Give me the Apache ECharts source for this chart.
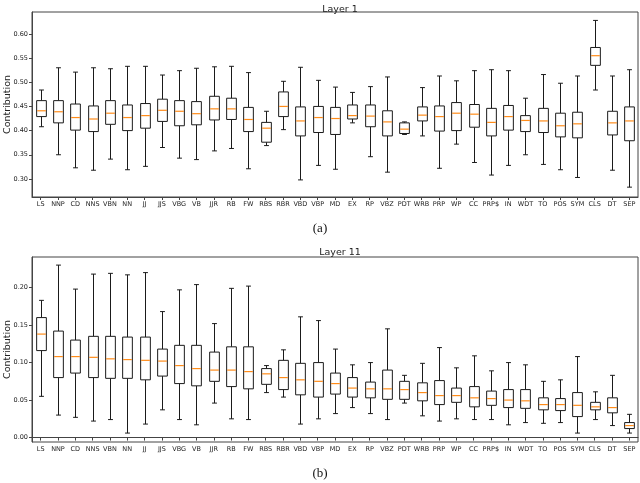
<!DOCTYPE html>
<html>
<head>
<meta charset="utf-8">
<script src="https://cdn.jsdelivr.net/npm/echarts@6/dist/echarts.min.js"></script>
<style>html,body{margin:0;padding:0;background:#fff;}#c{width:640px;height:483px;}</style>
</head>
<body>
<div id="c"></div>
<script>
const categories = ['LS','NNP','CD','NNS','VBN','NN','JJ','JJS','VBG','VB','JJR','RB','FW','RBS','RBR','VBD','VBP','MD','EX','RP','VBZ','PDT','WRB','PRP','WP','CC','PRP$','IN','WDT','TO','POS','SYM','CLS','DT','SEP'];

// Layer 1
const l1Low  = [0.408,0.350,0.323,0.318,0.341,0.319,0.326,0.365,0.343,0.340,0.358,0.363,0.321,0.369,0.402,0.298,0.328,0.320,0.416,0.346,0.314,0.392,0.389,0.322,0.372,0.334,0.308,0.328,0.350,0.330,0.319,0.303,0.484,0.318,0.283];
const l1Q1   = [0.429,0.416,0.401,0.398,0.413,0.400,0.405,0.419,0.410,0.412,0.422,0.423,0.398,0.376,0.429,0.389,0.396,0.392,0.424,0.408,0.389,0.394,0.420,0.399,0.400,0.407,0.389,0.401,0.398,0.396,0.387,0.385,0.535,0.391,0.379];
const l1Med  = [0.441,0.439,0.427,0.424,0.436,0.427,0.431,0.442,0.440,0.435,0.445,0.445,0.423,0.405,0.450,0.420,0.427,0.425,0.431,0.430,0.418,0.403,0.432,0.429,0.436,0.434,0.417,0.429,0.421,0.420,0.410,0.414,0.555,0.416,0.420];
const l1Q3   = [0.462,0.462,0.455,0.451,0.462,0.453,0.456,0.465,0.462,0.460,0.471,0.467,0.448,0.417,0.480,0.449,0.450,0.448,0.453,0.453,0.441,0.416,0.449,0.451,0.458,0.454,0.446,0.452,0.431,0.446,0.436,0.438,0.572,0.440,0.449];
const l1High = [0.484,0.530,0.521,0.530,0.528,0.533,0.533,0.515,0.524,0.529,0.532,0.533,0.520,0.440,0.502,0.531,0.504,0.490,0.479,0.491,0.511,0.418,0.489,0.513,0.503,0.524,0.526,0.524,0.467,0.516,0.498,0.513,0.628,0.513,0.526];

// Layer 11
const l11Low  = [0.055,0.030,0.027,0.022,0.024,0.006,0.018,0.037,0.024,0.017,0.046,0.025,0.024,0.060,0.054,0.018,0.025,0.032,0.040,0.032,0.024,0.046,0.029,0.022,0.025,0.024,0.024,0.017,0.020,0.019,0.020,0.006,0.024,0.016,0.006];
const l11Q1   = [0.116,0.080,0.086,0.080,0.079,0.079,0.077,0.082,0.072,0.069,0.075,0.068,0.065,0.071,0.064,0.057,0.054,0.058,0.054,0.053,0.051,0.051,0.049,0.044,0.047,0.041,0.043,0.040,0.039,0.037,0.036,0.028,0.037,0.033,0.012];
const l11Med  = [0.138,0.108,0.108,0.107,0.105,0.104,0.103,0.102,0.096,0.092,0.090,0.090,0.088,0.085,0.080,0.077,0.075,0.072,0.066,0.065,0.065,0.064,0.060,0.056,0.056,0.053,0.052,0.050,0.049,0.044,0.044,0.043,0.041,0.040,0.016];
const l11Q3   = [0.160,0.142,0.130,0.135,0.135,0.134,0.134,0.118,0.123,0.123,0.114,0.121,0.121,0.092,0.103,0.099,0.100,0.086,0.080,0.074,0.090,0.075,0.073,0.076,0.066,0.068,0.062,0.064,0.064,0.053,0.052,0.060,0.047,0.053,0.020];
const l11High = [0.183,0.230,0.198,0.218,0.219,0.217,0.220,0.168,0.197,0.204,0.152,0.199,0.202,0.096,0.117,0.161,0.156,0.118,0.097,0.100,0.145,0.083,0.099,0.120,0.093,0.109,0.089,0.100,0.097,0.075,0.077,0.108,0.061,0.083,0.031];

const l1Ticks  = [0.30,0.35,0.40,0.45,0.50,0.55,0.60];
const l11Ticks = [0.00,0.05,0.10,0.15,0.20];

function rows(lo, q1, md, q3, hi) {
  return categories.map((c, i) => [i, lo[i], q1[i], md[i], q3[i], hi[i]]);
}

function renderBox(params, api) {
  const i = api.value(0);
  const pLow = api.coord([i, api.value(1)]);
  const pQ1 = api.coord([i, api.value(2)]);
  const pMed = api.coord([i, api.value(3)]);
  const pQ3 = api.coord([i, api.value(4)]);
  const pHigh = api.coord([i, api.value(5)]);
  const band = api.size([1, 0])[0];
  const bw = band * 0.56, cw = bw * 0.5;
  const cx = Math.round(pMed[0]) + 0.5;
  const st = { stroke: '#1a1a1a', lineWidth: 1, fill: null };
  return {
    type: 'group',
    children: [
      { type: 'line', shape: { x1: cx, y1: pLow[1], x2: cx, y2: pQ1[1] }, style: st },
      { type: 'line', shape: { x1: cx, y1: pQ3[1], x2: cx, y2: pHigh[1] }, style: st },
      { type: 'line', shape: { x1: cx - cw / 2, y1: pLow[1], x2: cx + cw / 2, y2: pLow[1] }, style: st },
      { type: 'line', shape: { x1: cx - cw / 2, y1: pHigh[1], x2: cx + cw / 2, y2: pHigh[1] }, style: st },
      { type: 'rect', shape: { x: cx - bw / 2, y: pQ3[1], width: bw, height: pQ1[1] - pQ3[1] }, style: { stroke: '#1a1a1a', lineWidth: 1, fill: '#fff' } },
      { type: 'line', shape: { x1: cx - bw / 2 + 0.5, y1: pMed[1], x2: cx + bw / 2 - 0.5, y2: pMed[1] }, style: { stroke: '#ff8c1a', lineWidth: 1.2 } }
    ]
  };
}

const font = 'DejaVu Sans';
function xAx(gi) {
  return {
    type: 'category', gridIndex: gi, data: categories, boundaryGap: true,
    axisLine: { show: true, lineStyle: { color: '#444', width: 1 } },
    axisTick: { show: true, alignWithLabel: true, length: 3, lineStyle: { color: '#444' } },
    axisLabel: { interval: 0, fontSize: 6.5, fontFamily: font, color: '#222', margin: 4 },
    splitLine: { show: false }
  };
}
function yAx(gi, min, max, ticks) {
  return {
    type: 'value', gridIndex: gi, min: min, max: max,
    name: 'Contribution', nameLocation: 'middle', nameGap: 19, nameRotate: 90, nameMoveOverlap: false,
    nameTextStyle: { fontSize: 9.5, fontFamily: font, color: '#222' },
    axisLine: { show: true, lineStyle: { color: '#444', width: 1 } },
    axisTick: { show: true, length: 3, customValues: ticks, lineStyle: { color: '#444' } },
    axisLabel: { fontSize: 6.5, fontFamily: font, color: '#222', margin: 4, customValues: ticks, formatter: v => v.toFixed(2) },
    splitLine: { show: false }
  };
}

const chart = echarts.init(document.getElementById('c'), null, { renderer: 'canvas' });
chart.setOption({
  animation: false,
  backgroundColor: '#fff',
  title: [
    { text: 'Layer 1', left: 335, top: 0, textAlign: 'center', textStyle: { fontSize: 9.5, fontWeight: 'normal', fontFamily: font, color: '#222' } },
    { text: 'Layer 11', left: 335, top: 243, textAlign: 'center', textStyle: { fontSize: 9.5, fontWeight: 'normal', fontFamily: font, color: '#222' } }
  ],
  grid: [
    { left: 32, right: 2, top: 12, height: 185, show: true, borderColor: '#444', borderWidth: 1, backgroundColor: 'transparent', containLabel: false, outerBoundsMode: 'none' },
    { left: 32, right: 2, top: 257, height: 185, show: true, borderColor: '#444', borderWidth: 1, backgroundColor: 'transparent', containLabel: false, outerBoundsMode: 'none' }
  ],
  xAxis: [xAx(0), xAx(1)],
  yAxis: [yAx(0, 0.2626, 0.6454, l1Ticks), yAx(1, -0.0059, 0.2408, l11Ticks)],
  graphic: [
    { type: 'text', left: 'center', top: 222, style: { text: '(a)', fontSize: 13, fontFamily: 'Liberation Serif', fill: '#111' } },
    { type: 'text', left: 'center', top: 467, style: { text: '(b)', fontSize: 13, fontFamily: 'Liberation Serif', fill: '#111' } }
  ],
  series: [
    { type: 'custom', xAxisIndex: 0, yAxisIndex: 0, renderItem: renderBox, encode: { x: 0, y: [1, 2, 3, 4, 5] }, data: rows(l1Low, l1Q1, l1Med, l1Q3, l1High) },
    { type: 'custom', xAxisIndex: 1, yAxisIndex: 1, renderItem: renderBox, encode: { x: 0, y: [1, 2, 3, 4, 5] }, data: rows(l11Low, l11Q1, l11Med, l11Q3, l11High) }
  ]
});
</script>
</body>
</html>
